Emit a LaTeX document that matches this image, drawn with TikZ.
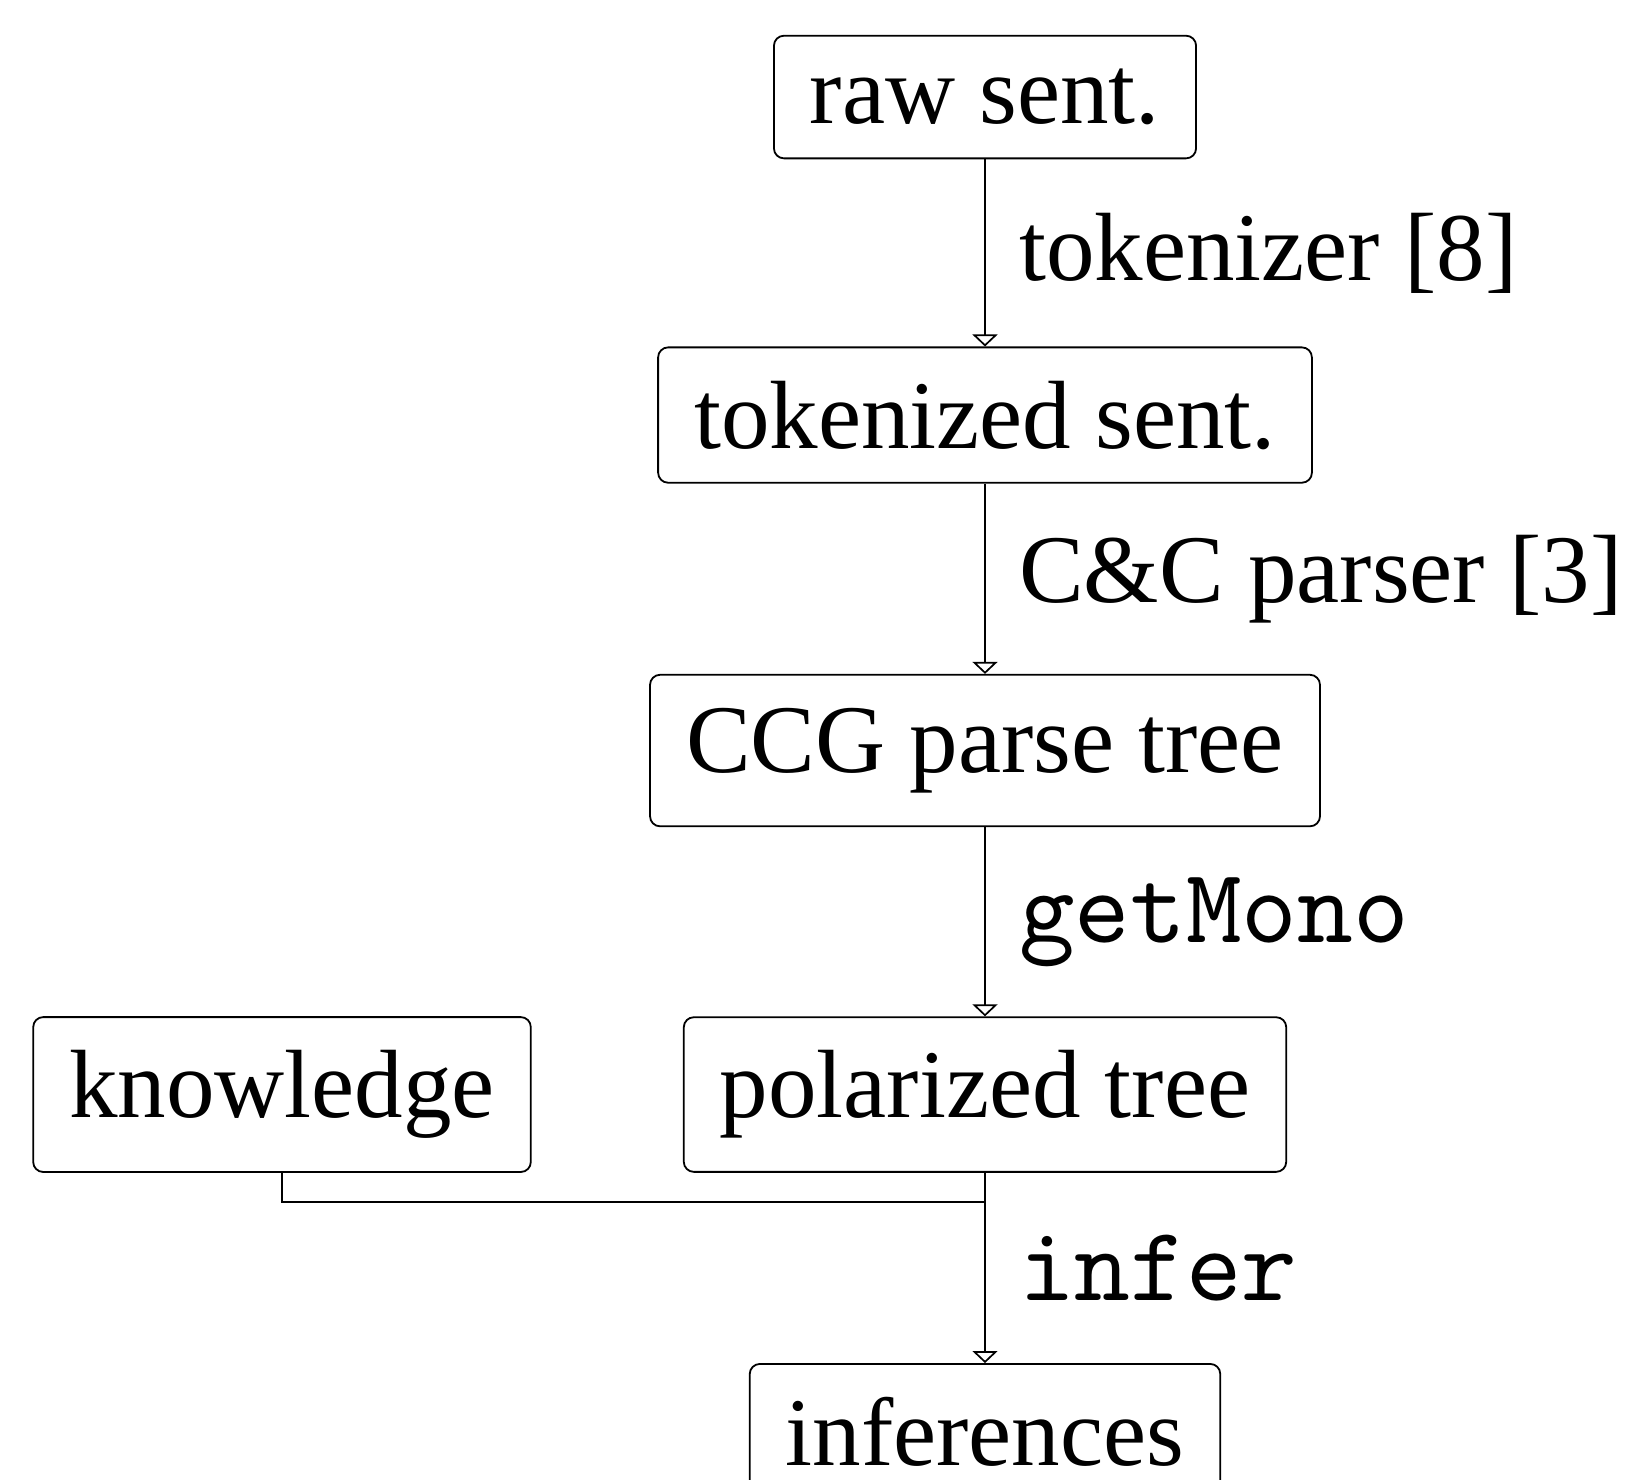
\documentclass[tikz,border=0pt]{standalone}
\usepackage{fontspec}
\setmainfont{Liberation Serif}
\usetikzlibrary{arrows.meta}
\tikzset{
  box/.style={draw, rounded corners=1pt, line width=0.18pt, inner xsep=3.6pt, font=\fontsize{9.7pt}{11pt}\selectfont},
  conn/.style={line width=0.17pt},
  flow/.style={conn, -{Triangle[open, width=2.5pt, length=1.2pt, line width=0.17pt]}},
  lbl/.style={right, font=\fontsize{9.7pt}{11pt}\selectfont},
  monolbl/.style={right, font=\fontsize{10.6pt}{12pt}\ttfamily},
}
\begin{document}
\begin{tikzpicture}[x=0.1pt, y=-0.1pt]
\clip (0,0) rectangle (1631,1479);
\node[box] (raw) at (985,97) {raw sent.};
\node[box] (tok) at (985,415) {tokenized sent.};
\node[box] (ccg) at (985,750.5) {CCG parse tree};
\node[box] (know) at (282,1094.5) {knowledge};
\node[box] (pol) at (985,1094.5) {polarized tree};
\node[box, anchor=north] (inf) at (985,1363) {inferences};
\coordinate (join) at (985,1202);
\draw[flow] (raw.south) -- node[lbl] (l1) {tokenizer [8]} (tok.north);
\draw[flow] (tok.south) -- node[lbl] (l2) {C\&C parser [3]} (ccg.north);
\draw[flow] (ccg.south) -- node[monolbl] (l3) {getMono} (pol.north);
\draw[flow] (pol.south) -- node[monolbl] (l4) {infer} (inf.north);
\draw[conn] (know.south) |- (join);
\end{tikzpicture}
\end{document}
